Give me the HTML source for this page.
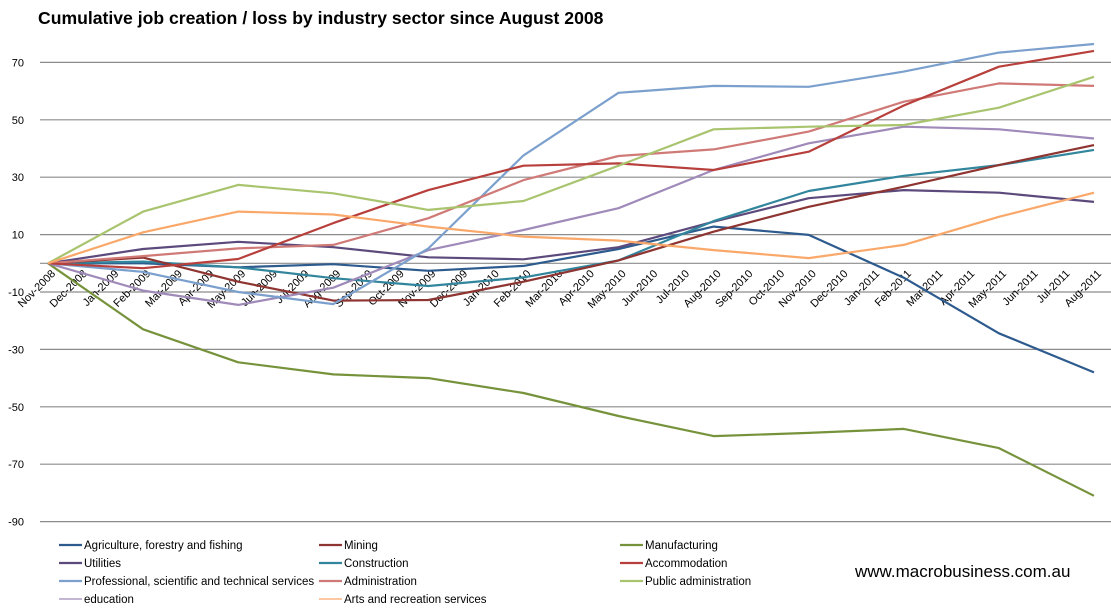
<!DOCTYPE html>
<html><head><meta charset="utf-8"><style>
body{margin:0;background:#fff;}
svg{display:block;font-family:"Liberation Sans",sans-serif;}
</style></head><body>
<svg id="chart" width="1111" height="612">
<text x="38" y="24" font-size="17.6" font-weight="bold" fill="#000">Cumulative job creation / loss by industry sector since August 2008</text>
<g id="grid"></g><g id="ylab"></g><g id="xlab"></g><g id="series"></g><g id="legend"></g>
<text x="855" y="577" font-size="17" fill="#000">www.macrobusiness.com.au</text>
</svg>
<script>
const months=["Nov-2008","Dec-2008","Jan-2009","Feb-2009","Mar-2009","Apr-2009","May-2009","Jun-2009","Jul-2009","Aug-2009","Sep-2009","Oct-2009","Nov-2009","Dec-2009","Jan-2010","Feb-2010","Mar-2010","Apr-2010","May-2010","Jun-2010","Jul-2010","Aug-2010","Sep-2010","Oct-2010","Nov-2010","Dec-2010","Jan-2011","Feb-2011","Mar-2011","Apr-2011","May-2011","Jun-2011","Jul-2011","Aug-2011"];
const quarterIdx=[0,3,6,9,12,15,18,21,24,27,30,33];
const yTicks=[70,50,30,10,-10,-30,-50,-70,-90];
const seriesNames=["Agriculture, forestry and fishing","Mining","Manufacturing","Utilities","Construction","Accommodation","Professional, scientific and technical services","Administration","Public administration","education","Arts and recreation services"];
const seriesColors=["#2E5B8E","#8E3431","#76933C","#5C4A7C","#31859C","#B8403C","#7BA0CD","#D07A77","#A9C46F","#9F8AB9","#F9A86A"];
const agriculture=[0,0,-1.4,-0.3,-2.6,-0.9,5,12.8,9.9,-5,-24.4,-38];
const mining=[0,2,-6.4,-13,-12.8,-6.4,1,11,19.7,26.7,34.2,41.2];
const manufacturing=[0,-23,-34.5,-38.7,-40,-45.2,-53.2,-60.2,-59.1,-57.7,-64.4,-81];
const utilities=[0,5,7.5,5.6,2.1,1.4,5.6,14.5,22.7,25.5,24.6,21.4];
const construction=[0,0.6,-1.4,-5.2,-7.9,-4.9,1,14.7,25.2,30.5,34.2,39.5];
const accommodation=[0,-1.7,1.5,14,25.5,34,34.8,32.5,38.9,55,68.5,74];
const professional=[0,-3,-10,-14.2,5.2,37.6,59.4,61.8,61.5,66.8,73.4,76.4];
const administration=[0,2.5,5.2,6.4,15.7,29,37.4,39.7,45.9,56.3,62.7,61.8];
const publicAdmin=[0,18,27.3,24.4,18.6,21.7,34,46.7,47.6,48.2,54.2,65];
const education=[0,-9.5,-14.5,-8.5,4.6,11.6,19.2,32.5,41.8,47.6,46.7,43.5];
const arts=[0,10.8,18,17,12.8,9.3,7.9,4.6,1.8,6.4,16.2,24.6];
const seriesData=[agriculture,mining,manufacturing,utilities,construction,accommodation,professional,administration,publicAdmin,education,arts];
const drawOrder=[2,0,3,4,1,9,6,7,5,8,10];
const NS="http://www.w3.org/2000/svg";
const x0=48,x1=1094;
const xs=i=>x0+(x1-x0)*i/(months.length-1);
const ys=v=>263.3-v*2.87;
function mk(tag,attrs,parent){const e=document.createElementNS(NS,tag);for(const k in attrs)e.setAttribute(k,attrs[k]);parent.appendChild(e);return e;}
const grid=document.getElementById('grid'),ylab=document.getElementById('ylab'),xlab=document.getElementById('xlab'),ser=document.getElementById('series'),leg=document.getElementById('legend');
yTicks.forEach(t=>{
  const l=mk('line',{x1:40,x2:1111,y1:ys(t),y2:ys(t),stroke:'#8c8c8c','stroke-width':1.2},grid);
  
  
  const tx=mk('text',{x:24,y:ys(t)+4,'font-size':11,'text-anchor':'end',fill:'#000'},ylab);
  tx.textContent=t;
  
  
});
const ax=mk('line',{x1:40,x2:1111,y1:ys(0),y2:ys(0),stroke:'#8c8c8c','stroke-width':1.2},grid);


months.forEach((m,i)=>{
  const x=xs(i)+8,y=ys(0)+11;
  const tx=mk('text',{x:x,y:y,'font-size':11,'text-anchor':'end',fill:'#000',transform:`rotate(-45 ${x} ${y})`},xlab);
  tx.textContent=m;
  
  
});
drawOrder.forEach(s=>{
  const pts=seriesData[s].map((v,k)=>xs(quarterIdx[k]).toFixed(1)+','+ys(v).toFixed(1)).join(' ');
  const p=mk('polyline',{points:pts,fill:'none',stroke:seriesColors[s],'stroke-width':2.2,'stroke-linejoin':'round'},ser);
  
  
});
const colX=[59,319,620],rowY=[545,563,581,599];
const layout=[[0,0],[1,0],[2,0],[0,1],[1,1],[2,1],[0,2],[1,2],[2,2],[0,3],[1,3]];
seriesNames.forEach((n,s)=>{
  const [c,r]=layout[s];const x=colX[c],y=rowY[r];
  const g=mk('g',{},leg);
  
  
  mk('line',{x1:x,x2:x+23,y1:y,y2:y,stroke:seriesColors[s],'stroke-width':(s>=9?1.2:2.2)},g);
  const t=mk('text',{x:x+25,y:y+4,'font-size':11.5,fill:'#000'},g);
  t.textContent=n;
});
</script>
</body></html>
